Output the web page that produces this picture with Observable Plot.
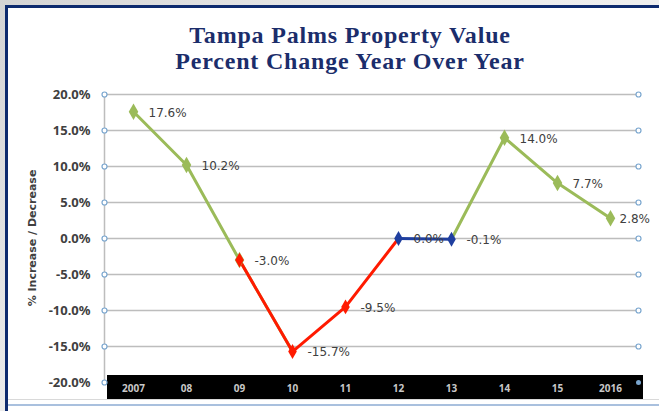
<!DOCTYPE html>
<html>
<head>
<meta charset="utf-8">
<script src="https://cdn.jsdelivr.net/npm/d3@7"></script>
<script src="https://cdn.jsdelivr.net/npm/@observablehq/plot@0.6"></script>
<style>
  html, body { margin: 0; padding: 0; }
  body { width: 659px; height: 411px; position: relative; overflow: hidden;
         background: linear-gradient(135deg, #d4d4d4 0%, #ececec 40%, #f2f2f2 100%); font-family: "DejaVu Sans", sans-serif; }
  #frame { position: absolute; left: 5px; top: 5px; width: 660px; height: 410px; background: #fff;
           border-left: 3px solid #0d2a6e; border-top: 3px solid #0d2a6e; box-sizing: border-box; }
  #title { position: absolute; left: 0; top: 22px; width: 700px; text-align: center;
           font-family: "Liberation Serif", "Times New Roman", serif; font-weight: bold; font-size: 24px;
           letter-spacing: 0.8px; line-height: 26px; color: #1b2d6b; }
  #band { position: absolute; left: 107px; top: 375px; width: 536px; height: 24px; background: #000; }
  #hline1 { position: absolute; left: 8px; top: 399px; width: 651px; height: 1px; background: #d9d9d9; }
  #hline2 { position: absolute; left: 8px; top: 404px; width: 651px; height: 2px; background: #a9c0de; }
  #chart { position: absolute; left: 0; top: 80px; }
  #ytitle { position: absolute; left: 32px; top: 238px; transform: translate(-50%, -50%) rotate(-90deg);
            font-family: "DejaVu Sans", sans-serif; font-weight: bold; font-size: 11px; color: #404040; white-space: nowrap; }
</style>
</head>
<body>
<div id="frame"></div>
<div id="title">Tampa Palms Property Value<br>Percent Change Year Over Year</div>
<div id="hline1"></div>
<div id="hline2"></div>
<div id="band"></div>
<div id="ytitle">% Increase / Decrease</div>
<div id="chart"></div>
<script>
const years = ["2007", "08", "09", "10", "11", "12", "13", "14", "15", "2016"];
const values = [17.6, 10.2, -3.0, -15.7, -9.5, 0.0, -0.1, 14.0, 7.7, 2.8];
const labels = ["17.6%", "10.2%", "-3.0%", "-15.7%", "-9.5%", "0.0%", "-0.1%", "14.0%", "7.7%", "2.8%"];
const yTicks = [20, 15, 10, 5, 0, -5, -10, -15, -20];
const redYears = ["09", "10", "11", "12"];
const blueYears = ["12", "13"];

const data = years.map((y, i) => ({year: y, value: values[i], label: labels[i]}));
const red = data.filter(d => redYears.includes(d.year));
const blue = data.filter(d => blueYears.includes(d.year));
const green = data.filter(d => !["10", "11", "12", "13"].includes(d.year));

const GREEN = "#9bbb59", RED = "#ff1a00", BLUE = "#1f3f9f";

const chart = Plot.plot({
  width: 659,
  height: 330,
  marginLeft: 104,
  marginRight: 21,
  marginTop: 14,
  marginBottom: 28,
  style: {background: "transparent", overflow: "visible"},
  x: {type: "point", domain: years, padding: 0.5},
  y: {domain: [-20, 20]},
  marks: [
    Plot.ruleY(yTicks.filter(t => t > -20), {stroke: "#bdbdbd", strokeWidth: 1.5}),
    Plot.frame({anchor: "left", stroke: "#bdbdbd", strokeWidth: 1.5}),
    Plot.axisY({ticks: yTicks, tickSize: 0, tickPadding: 14, tickFormat: d => d.toFixed(1) + "%",
                fontSize: 13, fontWeight: "bold", fill: "#404040", label: null}),
    Plot.axisX({tickSize: 0, tickPadding: 2, fontSize: 10, fontWeight: "bold", fill: "#c8c8c8", label: null}),
    Plot.dot(yTicks, {y: d => d, frameAnchor: "left", r: 2.5, stroke: "#7aa6cf", fill: "white", strokeWidth: 1.2}),
    Plot.dot(yTicks.filter(t => t > -20), {y: d => d, frameAnchor: "right", r: 2.5, stroke: "#7aa6cf", fill: "white", strokeWidth: 1.2}),
    Plot.dot([-20], {y: d => d, frameAnchor: "right", r: 2.5, fill: "#7aa6cf"}),
    Plot.lineY(data.slice(0, 4), {x: "year", y: "value", stroke: GREEN, strokeWidth: 3}),
    Plot.lineY(data.slice(6), {x: "year", y: "value", stroke: GREEN, strokeWidth: 3}),
    Plot.lineY(red, {x: "year", y: "value", stroke: RED, strokeWidth: 3}),
    Plot.lineY(blue, {x: "year", y: "value", stroke: BLUE, strokeWidth: 3}),
    Plot.dot(green, {x: "year", y: "value", symbol: "diamond", r: 5, fill: GREEN}),
    Plot.dot(red.filter(d => d.year !== "12"), {x: "year", y: "value", symbol: "diamond", r: 4.5, fill: RED}),
    Plot.dot(blue, {x: "year", y: "value", symbol: "diamond", r: 4.5, fill: BLUE}),
    Plot.text(data.slice(0, 9), {x: "year", y: "value", text: "label", textAnchor: "start", dx: 15, dy: 1,
                     fontSize: 12, fill: "#404040", fontFamily: "DejaVu Sans"}),
    Plot.text(data.slice(9), {x: "year", y: "value", text: "label", textAnchor: "start", dx: 9, dy: 1,
                     fontSize: 12, fill: "#404040", fontFamily: "DejaVu Sans"})
  ]
});
document.getElementById("chart").appendChild(chart);
</script>
</body>
</html>
